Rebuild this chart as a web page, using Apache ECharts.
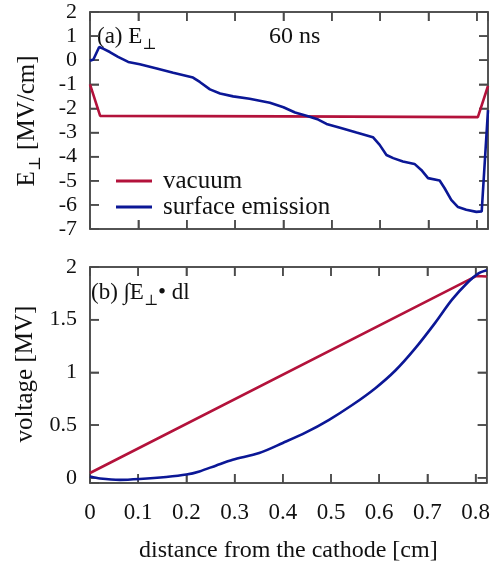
<!DOCTYPE html>
<html>
<head>
<meta charset="utf-8">
<script src="https://cdn.jsdelivr.net/npm/echarts@6/dist/echarts.min.js"></script>
<style>html,body{margin:0;padding:0;background:#fff}#c{width:493px;height:567px}</style>
</head>
<body>
<div id="c"></div>
<script>
// ---- data ----
// panel (a): E_perp [MV/cm] vs distance [cm]
var vacX  = [0, 0.021, 0.4, 0.802, 0.823];
var vacE  = [-1.0, -2.31, -2.33, -2.36, -1.07];
var surfX = [0, 0.007, 0.019, 0.027, 0.041, 0.058, 0.079, 0.103, 0.138, 0.172, 0.213, 0.227, 0.248, 0.269, 0.296, 0.33, 0.372, 0.40, 0.424, 0.451, 0.472, 0.489, 0.517, 0.551, 0.585, 0.599, 0.613, 0.627, 0.647, 0.671, 0.685, 0.699, 0.723, 0.733, 0.747, 0.761, 0.778, 0.799, 0.81, 0.823];
var surfE = [-0.02, 0.03, 0.55, 0.48, 0.34, 0.14, -0.07, -0.17, -0.34, -0.52, -0.72, -0.9, -1.21, -1.38, -1.5, -1.6, -1.76, -1.95, -2.17, -2.32, -2.46, -2.64, -2.8, -3.0, -3.19, -3.51, -3.93, -4.06, -4.2, -4.3, -4.55, -4.89, -4.99, -5.3, -5.79, -6.09, -6.2, -6.29, -6.27, -2.07];
// panel (b): voltage [MV] vs distance [cm]
var volVacX  = [0, 0.802, 0.823];
var volVac   = [0.045, 1.915, 1.91];
var volSurfX = [0, 0.021, 0.062, 0.103, 0.158, 0.2, 0.227, 0.262, 0.296, 0.351, 0.4, 0.448, 0.496, 0.544, 0.592, 0.634, 0.675, 0.716, 0.751, 0.785, 0.806, 0.823];
var volSurf  = [0.012, -0.007, -0.02, -0.012, 0.007, 0.03, 0.06, 0.117, 0.17, 0.234, 0.33, 0.43, 0.55, 0.69, 0.85, 1.02, 1.23, 1.47, 1.69, 1.86, 1.94, 1.97];
var seriesNames = ['vacuum', 'surface emission'];
// tick values
var xTicks = [0, 0.1, 0.2, 0.3, 0.4, 0.5, 0.6, 0.7, 0.8];
var eTicks = [-7, -6, -5, -4, -3, -2, -1, 0, 1, 2];
var vTicks = [0, 0.5, 1, 1.5, 2];
var xMin = 0, xMax = 0.823, xStep = 0.1;
var eMin = -7, eMax = 2, eStep = 1;
var vMin = -0.05, vMax = 2;

function pairs(xs, ys) { return xs.map(function (x, i) { return [x, ys[i]]; }); }

var RED = '#b3123b', BLUE = '#0b1796', AX = '#4a4a4a', TXT = '#111';
var FF = '"Liberation Serif", "DejaVu Serif", serif';
var mctx = document.createElement('canvas').getContext('2d');
function tw(t, size) { mctx.font = size + 'px ' + FF; return mctx.measureText(t).width; }
function txt(t, size, x, y, align) {
  return { type: 'text', x: x, y: y,
    style: { text: t, font: size + 'px ' + FF, fill: TXT, align: align || 'left', verticalAlign: 'middle' } };
}
function parts(list, x0, y0, big, small, subDy) {
  var out = [], x = x0;
  list.forEach(function (p) {
    var sz = p[1] ? small : big;
    out.push(txt(p[0], sz, x, y0 + (p[1] ? subDy : 0)));
    x += tw(p[0], sz);
  });
  return { els: out, width: x - x0 };
}

function xAx(grid, pos, showLabel, name) {
  return {
    type: 'value', gridIndex: grid, position: pos, min: xMin, max: xMax, interval: xStep,
    axisLine: { show: true, onZero: false, lineStyle: { color: AX, width: 1.5 } },
    axisTick: { show: true, inside: true, length: 9, lineStyle: { color: AX, width: 1.5 } },
    splitLine: { show: false },
    axisLabel: {
      show: showLabel, margin: 18, fontFamily: FF, fontSize: 23, color: TXT,
      showMaxLabel: false,
      formatter: function (v) {
        var k = v / xStep;
        if (Math.abs(k - Math.round(k)) > 1e-6) return '';
        return String(Math.round(k) / 10);
      }
    },
    name: name || '', nameLocation: 'middle', nameGap: 56,
    nameTextStyle: { fontFamily: FF, fontSize: 24, color: TXT }
  };
}
function yAx(grid, pos, showLabel, opts) {
  var a = {
    type: 'value', gridIndex: grid, position: pos,
    axisLine: { show: true, onZero: false, lineStyle: { color: AX, width: 1.5 } },
    axisTick: { show: true, inside: true, length: 9, lineStyle: { color: AX, width: 1.5 } },
    splitLine: { show: false },
    axisLabel: { show: showLabel, margin: 13, fontFamily: FF, fontSize: 22, color: TXT }
  };
  for (var k in opts) a[k] = opts[k];
  return a;
}
var vLabelFmt = function (v) {
  var k = v / 0.5;
  if (Math.abs(k - Math.round(k)) > 1e-6) return '';
  return String(Math.round(k) * 0.5);
};

// frame + inside ticks on all four sides, placed through the axes' own scales
function frameSeries(xi, yi, yLo, yHi, yTicks) {
  return {
    type: 'custom', xAxisIndex: xi, yAxisIndex: yi, silent: true, clip: false, z: 1,
    data: [[xMin, yLo]],
    renderItem: function (params, api) {
      var a = api.coord([xMin, yLo]), b = api.coord([xMax, yHi]);
      var st = function () { return { stroke: AX, lineWidth: 1.5, fill: 'none' }; };
      var ch = [{ type: 'rect', shape: { x: a[0], y: b[1], width: b[0] - a[0], height: a[1] - b[1] }, style: st() }];
      xTicks.forEach(function (t) {
        var p = api.coord([t, yLo]);
        ch.push({ type: 'line', shape: { x1: p[0], y1: a[1], x2: p[0], y2: a[1] - 9 }, style: st() });
        ch.push({ type: 'line', shape: { x1: p[0], y1: b[1], x2: p[0], y2: b[1] + 9 }, style: st() });
      });
      yTicks.forEach(function (t) {
        var p = api.coord([xMin, t]);
        ch.push({ type: 'line', shape: { x1: a[0], y1: p[1], x2: a[0] + 9, y2: p[1] }, style: st() });
        ch.push({ type: 'line', shape: { x1: b[0], y1: p[1], x2: b[0] - 9, y2: p[1] }, style: st() });
      });
      return { type: 'group', children: ch };
    }
  };
}

// annotation texts
var annA = parts([['(a) E', 0], ['⊥', 1]], 97, 37, 23, 15, 8);
var annB = parts([['(b) ∫E', 0], ['⊥', 1], ['• dl', 0]], 91, 293, 23, 15, 8);
var yTitleTopParts = [['E', 0], ['⊥', 1], [' [MV/cm]', 0]];
var wTop = 0; yTitleTopParts.forEach(function (p) { wTop += tw(p[0], p[1] ? 16 : 25); });
var yTop = parts(yTitleTopParts, -wTop / 2, 0, 25, 16, 9);

var graphics = [].concat(annA.els, annB.els, [
  txt('60 ns', 24, 269, 37),
  { type: 'group', x: 27, y: 121, rotation: Math.PI / 2, children: yTop.els },
  { type: 'group', x: 25, y: 374, rotation: Math.PI / 2, children: [txt('voltage [MV]', 25, 0, 0, 'center')] }
]);

var chart = echarts.init(document.getElementById('c'));
chart.setOption({
  animation: false,
  grid: [
    { left: 90, right: 5, top: 12, height: 217 },
    { left: 90, right: 5, top: 267, height: 216 }
  ],
  xAxis: [
    xAx(0, 'bottom', false),
    xAx(0, 'top', false),
    xAx(1, 'bottom', true, 'distance from the cathode [cm]'),
    xAx(1, 'top', false)
  ],
  yAxis: [
    yAx(0, 'left', true, { min: eMin, max: eMax, interval: eStep }),
    yAx(0, 'right', false, { min: eMin, max: eMax, interval: eStep }),
    yAx(1, 'left', true, {
      min: vMin, max: vMax, splitNumber: 4,
      axisLabel: { show: true, margin: 13, fontFamily: FF, fontSize: 22, color: TXT, formatter: vLabelFmt }
    }),
    yAx(1, 'right', false, { min: vMin, max: vMax, splitNumber: 4 })
  ],
  legend: {
    orient: 'vertical', left: 116, top: 168, itemGap: 0, padding: 0,
    itemWidth: 36, itemHeight: 3, icon: 'rect',
    data: seriesNames,
    textStyle: { fontFamily: FF, fontSize: 25, color: TXT, lineHeight: 26, padding: [0, 0, 0, 6] }
  },
  graphic: graphics,
  series: [
    frameSeries(0, 0, eMin, eMax, eTicks),
    frameSeries(2, 2, vMin, vMax, vTicks),
    { name: seriesNames[0], type: 'line', xAxisIndex: 0, yAxisIndex: 0, data: pairs(vacX, vacE),
      symbol: 'none', itemStyle: { color: RED }, lineStyle: { color: RED, width: 2.6 } },
    { name: seriesNames[1], type: 'line', xAxisIndex: 0, yAxisIndex: 0, data: pairs(surfX, surfE),
      symbol: 'none', itemStyle: { color: BLUE }, lineStyle: { color: BLUE, width: 2.6 } },
    { name: seriesNames[0], type: 'line', xAxisIndex: 2, yAxisIndex: 2, data: pairs(volVacX, volVac),
      symbol: 'none', itemStyle: { color: RED }, lineStyle: { color: RED, width: 2.6 } },
    { name: seriesNames[1], type: 'line', xAxisIndex: 2, yAxisIndex: 2, data: pairs(volSurfX, volSurf),
      symbol: 'none', smooth: 0.3, itemStyle: { color: BLUE }, lineStyle: { color: BLUE, width: 2.6 } }
  ]
});
</script>
</body>
</html>
